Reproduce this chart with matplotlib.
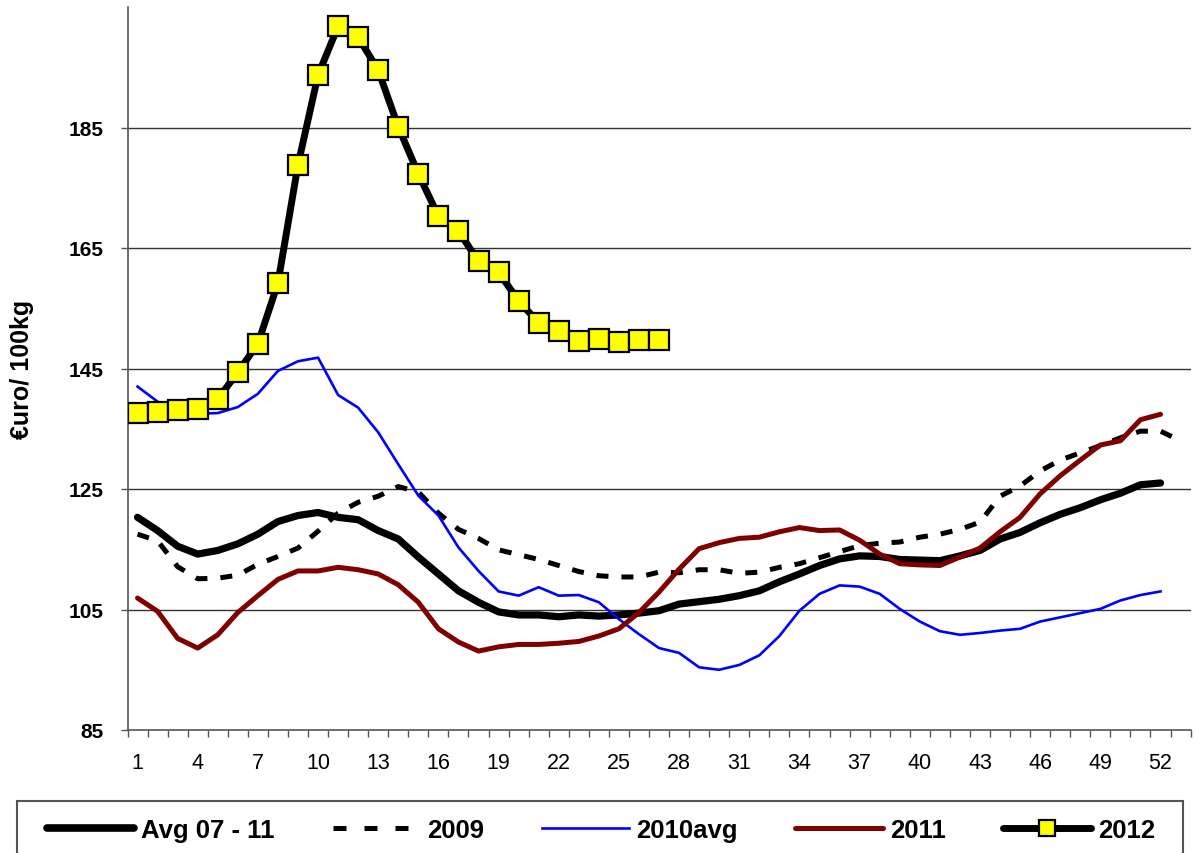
import matplotlib
matplotlib.use("Agg")
import matplotlib.pyplot as plt
from matplotlib.lines import Line2D
from matplotlib.patches import Rectangle
import numpy as np

plt.rcParams['font.family'] = ['Liberation Sans', 'DejaVu Sans']

# ---------------- data ----------------
weeks_avg = list(range(1, 53))
avg_07_11 = [120.3, 118.1, 115.5, 114.2, 114.8, 115.9, 117.5, 119.6, 120.6, 121.1,
             120.3, 119.9, 118.1, 116.7, 113.7, 110.9, 108.1, 106.2, 104.6, 104.1,
             104.1, 103.8, 104.1, 103.9, 104.1, 104.4, 104.8, 105.9, 106.3, 106.7,
             107.3, 108.1, 109.6, 110.9, 112.3, 113.4, 113.9, 113.8, 113.3, 113.2,
             113.1, 113.9, 114.8, 116.7, 117.8, 119.4, 120.8, 121.9, 123.2, 124.3,
             125.7, 126.0]

weeks_2009 = list(range(1, 54))
y2009 = [117.5, 116.4, 112.1, 110.1, 110.2, 110.7, 112.5, 113.8, 115.2, 118.0,
         121.0, 122.8, 123.8, 125.4, 124.5, 121.0, 118.3, 116.8, 114.9, 114.1,
         113.3, 112.3, 111.3, 110.6, 110.4, 110.4, 111.2, 111.1, 111.6, 111.6,
         111.0, 111.2, 112.0, 112.6, 113.6, 114.6, 115.6, 116.0, 116.2, 117.0,
         117.5, 118.3, 119.5, 123.8, 125.5, 128.0, 129.8, 131.0, 132.2, 133.5,
         134.6, 134.6, 133.0]

weeks_2010 = list(range(1, 53))
y2010avg = [142.0, 139.5, 138.0, 137.5, 137.6, 138.6, 140.8, 144.6, 146.2, 146.8,
            140.6, 138.5, 134.4, 129.1, 123.9, 120.6, 115.3, 111.4, 108.0, 107.3,
            108.7, 107.3, 107.4, 106.2, 103.4, 100.9, 98.6, 97.8, 95.4, 95.0,
            95.8, 97.4, 100.6, 104.8, 107.6, 109.0, 108.8, 107.6, 105.1, 103.0,
            101.4, 100.8, 101.1, 101.5, 101.8, 103.0, 103.7, 104.4, 105.1, 106.5,
            107.4, 108.0]

weeks_2011 = list(range(1, 53))
y2011 = [106.9, 104.7, 100.2, 98.6, 100.8, 104.5, 107.3, 110.0, 111.4, 111.4,
         112.0, 111.6, 110.9, 109.1, 106.2, 101.8, 99.6, 98.1, 98.8, 99.2,
         99.2, 99.4, 99.7, 100.6, 101.8, 104.5, 107.9, 111.7, 115.1, 116.1,
         116.8, 117.0, 117.9, 118.6, 118.1, 118.2, 116.5, 114.2, 112.6, 112.4,
         112.3, 113.7, 115.2, 117.9, 120.3, 124.2, 127.2, 129.8, 132.3, 133.0,
         136.5, 137.4]

weeks_2012 = list(range(1, 28))
y2012 = [137.6, 137.8, 138.1, 138.3, 139.9, 144.4, 149.1, 159.2, 178.8, 193.7,
         201.8, 200.0, 194.5, 185.1, 177.3, 170.3, 167.8, 162.8, 161.0, 156.2,
         152.6, 151.2, 149.6, 149.9, 149.4, 149.7, 149.7]

x_tick_labels = list(range(1, 53, 3))
y_ticks = [85, 105, 125, 145, 165, 185]

series_names = ["Avg 07 - 11", "2009", "2010avg", "2011", "2012"]

# ---------------- figure ----------------
W, H = 1195, 854
fig = plt.figure(figsize=(W / 100, H / 100), dpi=100)
ax = fig.add_axes([127.5 / W, 1 - 731 / H, (1190.6 - 127.5) / W, (731 - 8) / H])

ax.plot(weeks_avg, avg_07_11, color='black', lw=5.2, solid_capstyle='round',
        solid_joinstyle='round', zorder=3)
ax.plot(weeks_2009, y2009, color='black', lw=3.6, dashes=(2.4, 2.6),
        dash_capstyle='butt', zorder=4)
ax.plot(weeks_2010, y2010avg, color='#0000FF', lw=1.9, solid_joinstyle='round', zorder=5)
ax.plot(weeks_2011, y2011, color='#800000', lw=3.6, solid_capstyle='round',
        solid_joinstyle='round', zorder=6)
ax.plot(weeks_2012, y2012, color='black', lw=5.0, solid_joinstyle='round',
        marker='s', markersize=15, markerfacecolor='#FFFF00',
        markeredgecolor='black', markeredgewidth=1.6, zorder=7)

ax.set_xlim(0.5, 53.5)
ax.set_ylim(85, 205)

# grid
for yv in y_ticks[1:]:
    ax.axhline(yv, color='#333333', lw=1.0, zorder=1)

# spines
for s in ['top', 'right']:
    ax.spines[s].set_visible(False)
for s in ['left', 'bottom']:
    ax.spines[s].set_color('#555555')
    ax.spines[s].set_linewidth(1.2)

# ticks
ax.set_yticks(y_ticks)
ax.set_yticklabels([str(v) for v in y_ticks], fontsize=15, fontweight='bold')
ax.tick_params(axis='y', length=5, width=1, color='#555555', pad=12)

ax.set_xticks(x_tick_labels)
ax.set_xticklabels([str(v) for v in x_tick_labels], fontsize=15.5)
ax.set_xticks(np.arange(0.5, 54, 1), minor=True)
ax.tick_params(axis='x', which='major', length=0, pad=16)
ax.tick_params(axis='x', which='minor', length=5, width=1, color='#555555')

fig.text(22 / W, 1 - 369 / H, "€uro/ 100kg", rotation=90, ha='center', va='center',
         fontsize=18, fontweight='bold')

# legend
handles = [
    Line2D([], [], color='black', lw=5.5, solid_capstyle='round'),
    Line2D([], [], color='black', lw=3.6, dashes=(2.6, 3.6), dash_capstyle='butt'),
    Line2D([], [], color='#0000FF', lw=1.9),
    Line2D([], [], color='#800000', lw=3.6, solid_capstyle='round'),
    Line2D([], [], color='black', lw=5.0, solid_capstyle='round', marker='s',
           markersize=11, markerfacecolor='#FFFF00', markeredgecolor='black',
           markeredgewidth=1.6),
]
fig.legend(handles, series_names, loc='center', ncol=5,
           bbox_to_anchor=(601 / W, 1 - 831 / H), frameon=False,
           prop={'weight': 'bold', 'size': 18.5},
           handlelength=3.4, handletextpad=0.27, columnspacing=2.25,
           borderaxespad=0, borderpad=0)
fig.patches.append(Rectangle((17 / W, -0.02), (1183 - 17) / W, 0.02 + (1 - 802 / H),
                             transform=fig.transFigure, fill=False,
                             edgecolor='#555555', lw=1.5))

fig.savefig("out.png", dpi=100)
